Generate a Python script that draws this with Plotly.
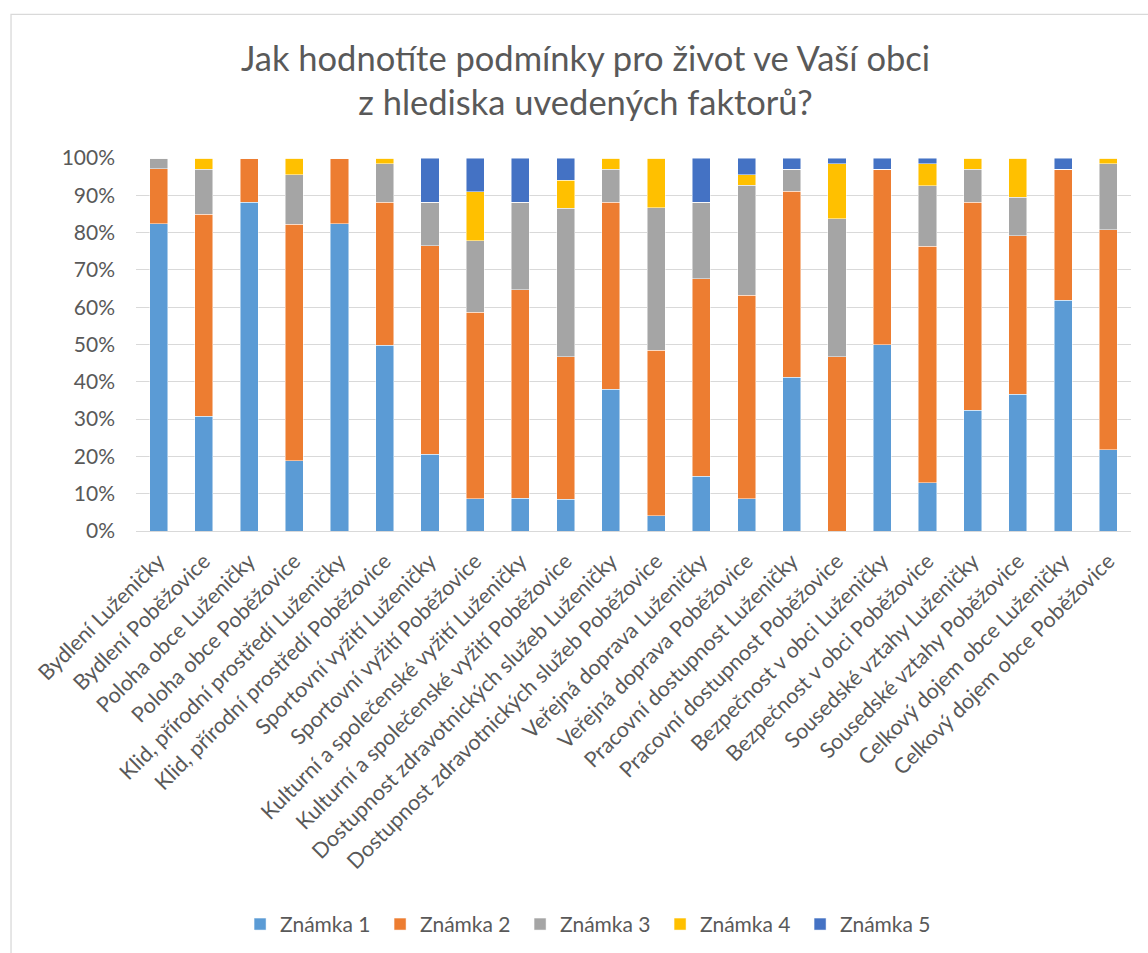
import plotly.graph_objects as go

kategorie = [
    "Bydlení Luženičky", "Bydlení Poběžovice",
    "Poloha obce Luženičky", "Poloha obce Poběžovice",
    "Klid, přírodní prostředí Luženičky", "Klid, přírodní prostředí Poběžovice",
    "Sportovní vyžití Luženičky", "Sportovní vyžití Poběžovice",
    "Kulturní a společenské vyžití Luženičky", "Kulturní a společenské vyžití Poběžovice",
    "Dostupnost zdravotnických služeb Luženičky", "Dostupnost zdravotnických služeb Poběžovice",
    "Veřejná doprava Luženičky", "Veřejná doprava Poběžovice",
    "Pracovní dostupnost Luženičky", "Pracovní dostupnost Poběžovice",
    "Bezpečnost v obci Luženičky", "Bezpečnost v obci Poběžovice",
    "Sousedské vztahy Luženičky", "Sousedské vztahy Poběžovice",
    "Celkový dojem obce Luženičky", "Celkový dojem obce Poběžovice",
]

# podíly odpovědí (v %)
znamka1 = [82.4, 30.8, 88.2, 18.9, 82.4, 49.8, 20.6, 8.6, 8.8, 8.5, 38.0,
           4.1, 14.7, 8.6, 41.2, 0.0, 50.0, 13.0, 32.4, 36.6, 61.8, 21.8]
znamka2 = [14.7, 54.1, 11.8, 63.4, 17.6, 38.4, 55.9, 50.1, 55.9, 38.2, 50.2,
           44.3, 52.9, 54.6, 49.9, 46.7, 47.0, 63.3, 55.8, 42.6, 35.2, 59.0]
znamka3 = [2.9, 12.1, 0.0, 13.2, 0.0, 10.3, 11.7, 19.1, 23.5, 39.8, 8.8,
           38.3, 20.6, 29.5, 5.9, 37.0, 0.0, 16.2, 8.8, 10.3, 0.0, 17.7]
znamka4 = [0.0, 3.0, 0.0, 4.5, 0.0, 1.5, 0.0, 13.2, 0.0, 7.5, 3.0,
           13.3, 0.0, 2.8, 0.0, 14.8, 0.0, 6.0, 3.0, 10.5, 0.0, 1.5]
znamka5 = [0.0, 0.0, 0.0, 0.0, 0.0, 0.0, 11.8, 9.0, 11.8, 6.0, 0.0,
           0.0, 11.8, 4.5, 3.0, 1.5, 3.0, 1.5, 0.0, 0.0, 3.0, 0.0]

serie = [
    ("Známka 1", znamka1, "#5B9BD5"),
    ("Známka 2", znamka2, "#ED7D31"),
    ("Známka 3", znamka3, "#A5A5A5"),
    ("Známka 4", znamka4, "#FFC000"),
    ("Známka 5", znamka5, "#4472C4"),
]

text_barva = "#595959"
pismo = "Lato"

fig = go.Figure()
for nazev, hodnoty, barva in serie:
    fig.add_trace(go.Bar(
        x=kategorie, y=hodnoty, name=nazev,
        marker=dict(color=barva, line=dict(color="rgba(255,255,255,0.6)", width=0.8)),
    ))

fig.update_layout(
    barmode="stack",
    barnorm="percent",
    bargap=0.6,
    width=1148, height=953,
    paper_bgcolor="white",
    plot_bgcolor="white",
    font=dict(family=pismo, color=text_barva, size=21),
    title=dict(
        text="Jak hodnotíte podmínky pro život ve Vaší obci<br>z hlediska uvedených faktorů?",
        x=0.51, xanchor="center", y=0.926, yanchor="top",
        font=dict(size=34.5, color=text_barva, family=pismo),
    ),
    margin=dict(l=136, r=17, t=158, b=422),
    legend=dict(
        orientation="h", xref="container", yref="container",
        x=0.514, xanchor="center", y=0.030, yanchor="middle",
        font=dict(size=21, color=text_barva),
        itemwidth=30, entrywidth=95, entrywidthmode="pixels",
        traceorder="normal",
    ),
    showlegend=True,
)

fig.update_yaxes(
    range=[0, 100], dtick=10, ticksuffix="%",
    showgrid=True, gridcolor="#D9D9D9", gridwidth=1.3,
    zeroline=False, showline=False, ticks="",
    tickfont=dict(size=21, color=text_barva),
    ticklabelstandoff=20,
)
fig.update_xaxes(
    tickangle=-45, showline=True, linecolor="#D9D9D9", linewidth=1.3,
    ticks="", tickfont=dict(size=21.5, color=text_barva),
    ticklabelstandoff=8,
)

# rámeček kolem celého grafu (pravá a dolní hrana jsou mimo obrázek)
fig.add_shape(
    type="rect", xref="paper", yref="paper",
    x0=-0.1256, x1=1.05, y0=-1.2, y1=1.385,
    line=dict(color="#D9D9D9", width=1.3), fillcolor="rgba(0,0,0,0)",
    layer="below",
)

fig.write_html("out.html", config={"displayModeBar": False},
               post_script="document.body.style.margin='0';")
